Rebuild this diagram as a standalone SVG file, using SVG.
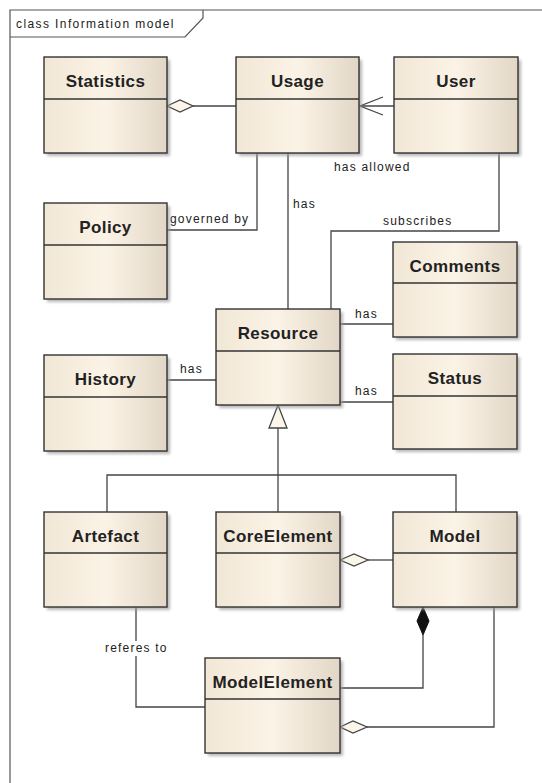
<svg xmlns="http://www.w3.org/2000/svg" width="542" height="783" viewBox="0 0 542 783">
  <defs>
    <linearGradient id="boxFill" x1="0" y1="0" x2="1" y2="0">
      <stop offset="0" stop-color="#f1e7d6"/>
      <stop offset="0.5" stop-color="#fbf3e6"/>
      <stop offset="1" stop-color="#e2d7c6"/>
    </linearGradient>
    <filter id="shadow" x="-10%" y="-10%" width="130%" height="130%">
      <feGaussianBlur stdDeviation="1.5"/>
    </filter>
    <style>
      .frame { fill: none; stroke: #555; stroke-width: 1.2; }
      .shade { fill: #9a9a9a; opacity: 0.7; filter: url(#shadow); }
      .box { fill: url(#boxFill); stroke: #333; stroke-width: 1.4; }
      .div { stroke: #333; stroke-width: 1.4; }
      .name { font-family: "Liberation Sans", Arial, sans-serif; font-weight: bold; font-size: 17px; fill: #222; text-anchor: middle; letter-spacing: 0.4px; }
      .title { font-family: "Liberation Sans", Arial, sans-serif; font-size: 12px; fill: #222; letter-spacing: 1.4px; }
      .lbl { font-family: "Liberation Sans", Arial, sans-serif; font-size: 12px; fill: #222; letter-spacing: 1.2px; }
      .line { fill: none; stroke: #444; stroke-width: 1.3; }
      .hollow { fill: #fbf6e9; stroke: #444; stroke-width: 1.3; }
      .solid { fill: #111; stroke: #111; stroke-width: 1; }
    </style>
  </defs>

  <rect width="542" height="783" fill="#ffffff"/>

  <!-- diagram frame -->
  <g id="frame">
    <path class="frame" d="M10,783 V10 H542"/>
    <path class="frame" d="M10,37 H185 L203,18 V10"/>
    <text class="title" x="16" y="28">class Information model</text>
  </g>

  <!-- connectors -->
  <g id="connectors">
    <!-- Statistics <>- Usage -->
    <path class="line" d="M236,106 H193"/>
    <polygon class="hollow" points="167,106 180,100 193,106 180,112"/>
    <!-- User -> Usage -->
    <path class="line" d="M394,106 H360"/>
    <path class="line" d="M383,97 L360,106 L383,115"/>
    <text class="lbl" x="334" y="171">has allowed</text>
    <!-- Usage - Resource -->
    <path class="line" d="M288,153 V309"/>
    <text class="lbl" x="293" y="208">has</text>
    <!-- Policy - Usage -->
    <path class="line" d="M167,230 H257 V153"/>
    <text class="lbl" x="170" y="223">governed by</text>
    <!-- User - Resource -->
    <path class="line" d="M499,153 V231 H331 V309"/>
    <text class="lbl" x="383" y="225">subscribes</text>
    <!-- Resource - Comments -->
    <path class="line" d="M340,324 H393"/>
    <text class="lbl" x="355" y="318">has</text>
    <!-- Resource - Status -->
    <path class="line" d="M340,402 H393"/>
    <text class="lbl" x="355" y="395">has</text>
    <!-- History - Resource -->
    <path class="line" d="M167,380 H216"/>
    <text class="lbl" x="180" y="373">has</text>
    <!-- generalization to Resource -->
    <path class="line" d="M278,428 V512"/>
    <path class="line" d="M107,512 V475 H456 V512"/>
    <polygon class="hollow" points="278,405 287,428 269,428"/>
    <!-- CoreElement <>- Model -->
    <path class="line" d="M368,560 H393"/>
    <polygon class="hollow" points="340,560 354,554 368,560 354,566"/>
    <!-- Model <#>- ModelElement -->
    <path class="line" d="M423,635 V688 H340"/>
    <polygon class="solid" points="423,607 429,621 423,635 417,621"/>
    <!-- ModelElement <>- Model -->
    <path class="line" d="M494,607 V727 H367"/>
    <polygon class="hollow" points="340,727 353,721 367,727 353,733"/>
    <!-- Artefact - ModelElement -->
    <path class="line" d="M136,607 V707 H205"/>
    <rect x="103" y="641" width="63" height="15" fill="#ffffff"/>
    <text class="lbl" x="105" y="652">referes to</text>
  </g>

  <!-- classes -->
  <g id="Statistics">
    <rect class="shade" x="47" y="60" width="123" height="96"/>
    <rect class="box" x="44" y="57" width="123" height="96"/>
    <line class="div" x1="44" y1="99" x2="167" y2="99"/>
    <text class="name" x="105.5" y="87">Statistics</text>
  </g>
  <g id="Usage">
    <rect class="shade" x="239" y="60" width="123" height="96"/>
    <rect class="box" x="236" y="57" width="123" height="96"/>
    <line class="div" x1="236" y1="99" x2="359" y2="99"/>
    <text class="name" x="297.5" y="87">Usage</text>
  </g>
  <g id="User">
    <rect class="shade" x="397" y="60" width="124" height="96"/>
    <rect class="box" x="394" y="57" width="124" height="96"/>
    <line class="div" x1="394" y1="99" x2="518" y2="99"/>
    <text class="name" x="456" y="87">User</text>
  </g>
  <g id="Policy">
    <rect class="shade" x="47" y="206" width="123" height="96"/>
    <rect class="box" x="44" y="203" width="123" height="96"/>
    <line class="div" x1="44" y1="245" x2="167" y2="245"/>
    <text class="name" x="105.5" y="233">Policy</text>
  </g>
  <g id="Comments">
    <rect class="shade" x="396" y="245" width="124" height="95"/>
    <rect class="box" x="393" y="242" width="124" height="95"/>
    <line class="div" x1="393" y1="283" x2="517" y2="283"/>
    <text class="name" x="455" y="272">Comments</text>
  </g>
  <g id="Resource">
    <rect class="shade" x="219" y="312" width="124" height="96"/>
    <rect class="box" x="216" y="309" width="124" height="96"/>
    <line class="div" x1="216" y1="351" x2="340" y2="351"/>
    <text class="name" x="278" y="339">Resource</text>
  </g>
  <g id="History">
    <rect class="shade" x="47" y="358" width="123" height="96"/>
    <rect class="box" x="44" y="355" width="123" height="96"/>
    <line class="div" x1="44" y1="397" x2="167" y2="397"/>
    <text class="name" x="105.5" y="385">History</text>
  </g>
  <g id="Status">
    <rect class="shade" x="396" y="357" width="124" height="95"/>
    <rect class="box" x="393" y="354" width="124" height="95"/>
    <line class="div" x1="393" y1="396" x2="517" y2="396"/>
    <text class="name" x="455" y="384">Status</text>
  </g>
  <g id="Artefact">
    <rect class="shade" x="47" y="515" width="123" height="95"/>
    <rect class="box" x="44" y="512" width="123" height="95"/>
    <line class="div" x1="44" y1="553" x2="167" y2="553"/>
    <text class="name" x="105.5" y="542">Artefact</text>
  </g>
  <g id="CoreElement">
    <rect class="shade" x="219" y="515" width="124" height="95"/>
    <rect class="box" x="216" y="512" width="124" height="95"/>
    <line class="div" x1="216" y1="553" x2="340" y2="553"/>
    <text class="name" x="278" y="542">CoreElement</text>
  </g>
  <g id="Model">
    <rect class="shade" x="396" y="515" width="124" height="95"/>
    <rect class="box" x="393" y="512" width="124" height="95"/>
    <line class="div" x1="393" y1="553" x2="517" y2="553"/>
    <text class="name" x="455" y="542">Model</text>
  </g>
  <g id="ModelElement">
    <rect class="shade" x="208" y="661" width="135" height="95"/>
    <rect class="box" x="205" y="658" width="135" height="95"/>
    <line class="div" x1="205" y1="699" x2="340" y2="699"/>
    <text class="name" x="272.5" y="688">ModelElement</text>
  </g>
</svg>
